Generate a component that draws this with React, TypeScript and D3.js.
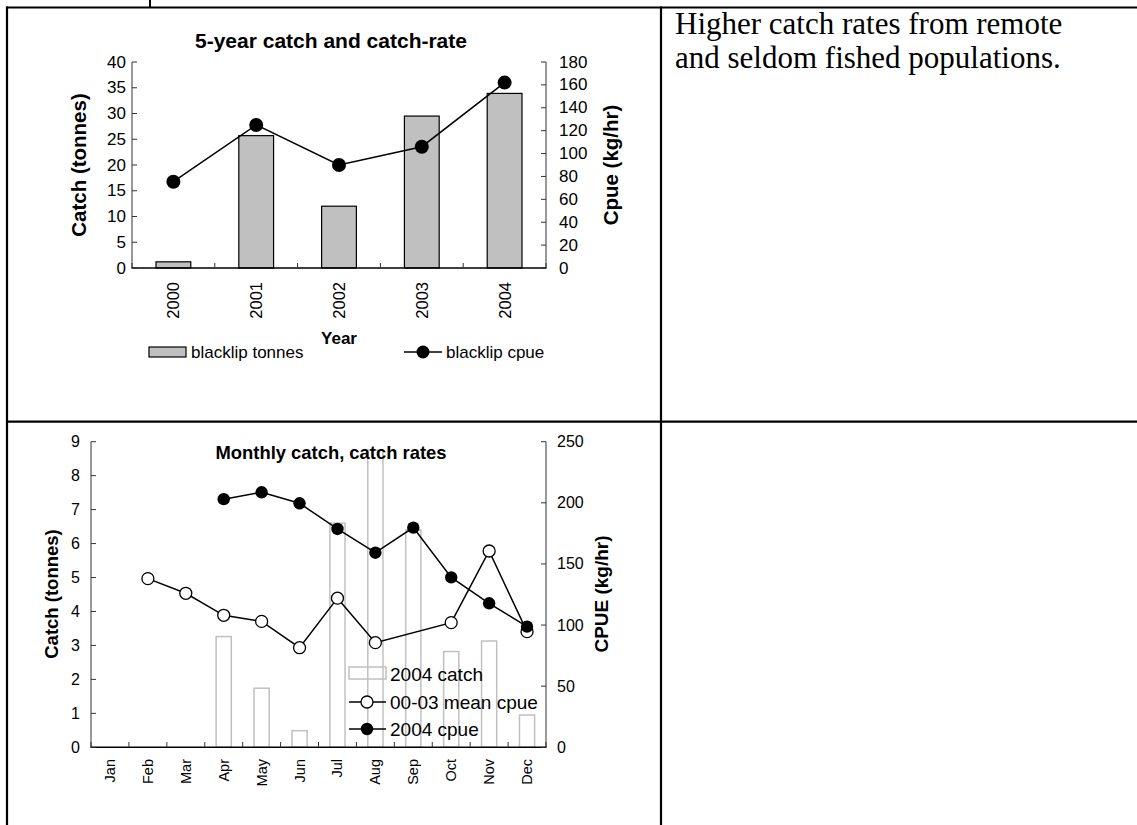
import React from 'react';
import * as d3 from 'd3';

// ---- Top chart data ----
const years = ['2000', '2001', '2002', '2003', '2004'];
const catchTonnes = [1.2, 25.7, 12.0, 29.5, 33.9];
const cpueYear = [75.4, 125, 90, 106, 162];
const catchTicks = [0, 5, 10, 15, 20, 25, 30, 35, 40];
const cpueTicks = [0, 20, 40, 60, 80, 100, 120, 140, 160, 180];

// ---- Bottom chart data ----
const months = ['Jan', 'Feb', 'Mar', 'Apr', 'May', 'Jun', 'Jul', 'Aug', 'Sep', 'Oct', 'Nov', 'Dec'];
const catch2004: (number | null)[] = [null, null, null, 3.26, 1.74, 0.49, 6.6, 8.75, 6.4, 2.82, 3.13, 0.95];
const meanCpue: (number | null)[] = [null, 138, 126, 108, 103, 81.5, 122, 85.6, null, 102, 160.6, 94.6];
const cpue2004: (number | null)[] = [null, null, null, 203, 208.6, 199.6, 178.6, 159.2, 179.7, 139, 117.8, 98.7];
const catchTicks2 = [0, 1, 2, 3, 4, 5, 6, 7, 8, 9];
const cpueTicks2 = [0, 50, 100, 150, 200, 250];

const SANS = '"Liberation Sans", Arial, sans-serif';
const SERIF = '"Liberation Serif", "Times New Roman", serif';

function TopChart() {
  const x = d3.scaleBand<string>().domain(years).range([132, 546]);
  const yL = d3.scaleLinear().domain([0, 40]).range([268, 62]);
  const yR = d3.scaleLinear().domain([0, 180]).range([268, 62]);
  const bw = x.bandwidth() * 0.42;
  const cx = (d: string) => (x(d) as number) + x.bandwidth() / 2;
  const pts = years.map((d, i) => [cx(d), yR(cpueYear[i])] as [number, number]);
  const line = d3.line()(pts) as string;
  const boundaries = years.map((d) => x(d) as number).concat([546]);
  return (
    <g fontFamily={SANS}>
      <text x={331} y={40} textAnchor="middle" dominantBaseline="central" fontWeight="bold" fontSize={21}>
        5-year catch and catch-rate
      </text>
      {years.map((d, i) => (
        <rect key={d} x={cx(d) - bw / 2} y={yL(catchTonnes[i])} width={bw} height={yL(0) - yL(catchTonnes[i])}
          fill="#c0c0c0" stroke="#000" strokeWidth={1.2} />
      ))}
      {/* axes */}
      <line x1={132} x2={132} y1={yL(40)} y2={yL(0)} stroke="#333" strokeWidth={1} />
      <line x1={546} x2={546} y1={yR(180)} y2={yR(0)} stroke="#333" strokeWidth={1} />
      <line x1={131.5} x2={546.5} y1={268} y2={268} stroke="#000" strokeWidth={1.5} />
      {catchTicks.map((t) => (
        <g key={'l' + t}>
          <line x1={132} x2={137} y1={yL(t)} y2={yL(t)} stroke="#333" />
          <text x={126} y={yL(t)} textAnchor="end" dominantBaseline="central" fontSize={17}>{t}</text>
        </g>
      ))}
      {cpueTicks.map((t) => (
        <g key={'r' + t}>
          <line x1={541} x2={546} y1={yR(t)} y2={yR(t)} stroke="#333" />
          <text x={559} y={yR(t)} textAnchor="start" dominantBaseline="central" fontSize={17}>{t}</text>
        </g>
      ))}
      {boundaries.map((b, i) => (
        <line key={'b' + i} x1={b} x2={b} y1={268} y2={263} stroke="#333" />
      ))}
      {years.map((d) => (
        <text key={'t' + d} transform={`translate(${cx(d)},282) rotate(-90)`} textAnchor="end"
          dominantBaseline="central" fontSize={16.5}>{d}</text>
      ))}
      <path d={line} fill="none" stroke="#000" strokeWidth={1.5} />
      {pts.map((p, i) => (
        <circle key={'c' + i} cx={p[0]} cy={p[1]} r={7} fill="#000" />
      ))}
      <text transform="translate(78,165) rotate(-90)" textAnchor="middle" dominantBaseline="central"
        fontWeight="bold" fontSize={20.5}>Catch (tonnes)</text>
      <text transform="translate(610,165) rotate(-90)" textAnchor="middle" dominantBaseline="central"
        fontWeight="bold" fontSize={20.5}>Cpue (kg/hr)</text>
      <text x={339} y={338} textAnchor="middle" dominantBaseline="central" fontWeight="bold" fontSize={17}>Year</text>
      {/* legend */}
      <rect x={149} y={347} width={37} height={10} fill="#c0c0c0" stroke="#000" strokeWidth={1.2} />
      <text x={191} y={352} dominantBaseline="central" fontSize={17}>blacklip tonnes</text>
      <line x1={404} x2={442} y1={352} y2={352} stroke="#000" strokeWidth={1.5} />
      <circle cx={423} cy={352} r={6.5} fill="#000" />
      <text x={446} y={352} dominantBaseline="central" fontSize={17}>blacklip cpue</text>
    </g>
  );
}

function BottomChart() {
  const x = d3.scaleBand<string>().domain(months).range([91, 546]);
  const yL = d3.scaleLinear().domain([0, 9]).range([747.3, 441.7]);
  const yR = d3.scaleLinear().domain([0, 250]).range([747.3, 441.7]);
  const bw = x.bandwidth() * 0.4;
  const cx = (d: string) => (x(d) as number) + x.bandwidth() / 2;
  const meanPts = months
    .map((m, i) => (meanCpue[i] == null ? null : ([cx(m), yR(meanCpue[i] as number)] as [number, number])))
    .filter((p) => p != null) as [number, number][];
  const curPts = months
    .map((m, i) => (cpue2004[i] == null ? null : ([cx(m), yR(cpue2004[i] as number)] as [number, number])))
    .filter((p) => p != null) as [number, number][];
  const lineGen = d3.line();
  const boundaries = months.map((d) => x(d) as number).concat([546]);
  return (
    <g fontFamily={SANS}>
      {months.map((m, i) =>
        catch2004[i] == null ? null : (
          <rect key={m} x={cx(m) - bw / 2} y={yL(catch2004[i] as number)} width={bw}
            height={yL(0) - yL(catch2004[i] as number)} fill="none" stroke="#c0c0c0" strokeWidth={1.5} />
        )
      )}
      <line x1={91} x2={91} y1={yL(9)} y2={yL(0)} stroke="#333" strokeWidth={1} />
      <line x1={546} x2={546} y1={yR(250)} y2={yR(0)} stroke="#333" strokeWidth={1} />
      <line x1={90.5} x2={546.5} y1={747.3} y2={747.3} stroke="#000" strokeWidth={1.5} />
      {catchTicks2.map((t) => (
        <g key={'l' + t}>
          <line x1={91} x2={96} y1={yL(t)} y2={yL(t)} stroke="#333" />
          <text x={80} y={yL(t)} textAnchor="end" dominantBaseline="central" fontSize={16}>{t}</text>
        </g>
      ))}
      {cpueTicks2.map((t) => (
        <g key={'r' + t}>
          <line x1={541} x2={546} y1={yR(t)} y2={yR(t)} stroke="#333" />
          <text x={557} y={yR(t)} textAnchor="start" dominantBaseline="central" fontSize={16}>{t}</text>
        </g>
      ))}
      {boundaries.map((b, i) => (
        <line key={'b' + i} x1={b} x2={b} y1={747.3} y2={742} stroke="#333" />
      ))}
      {months.map((m) => (
        <text key={'t' + m} transform={`translate(${cx(m)},759) rotate(-90)`} textAnchor="end"
          dominantBaseline="central" fontSize={14.5}>{m}</text>
      ))}
      <path d={lineGen(meanPts) as string} fill="none" stroke="#000" strokeWidth={1.5} />
      <path d={lineGen(curPts) as string} fill="none" stroke="#000" strokeWidth={1.5} />
      {meanPts.map((p, i) => (
        <circle key={'m' + i} cx={p[0]} cy={p[1]} r={6} fill="#fff" stroke="#000" strokeWidth={1.3} />
      ))}
      {curPts.map((p, i) => (
        <circle key={'c' + i} cx={p[0]} cy={p[1]} r={6.2} fill="#000" />
      ))}
      <text x={331} y={452} textAnchor="middle" dominantBaseline="central" fontWeight="bold" fontSize={18.4}>
        Monthly catch, catch rates
      </text>
      <text transform="translate(51,594) rotate(-90)" textAnchor="middle" dominantBaseline="central"
        fontWeight="bold" fontSize={18.5}>Catch (tonnes)</text>
      <text transform="translate(601,594) rotate(-90)" textAnchor="middle" dominantBaseline="central"
        fontWeight="bold" fontSize={19}>CPUE (kg/hr)</text>
      {/* legend */}
      <rect x={349} y={667} width={37} height={12} fill="none" stroke="#c0c0c0" strokeWidth={1.5} />
      <text x={390} y={674} dominantBaseline="central" fontSize={19}>2004 catch</text>
      <line x1={349} x2={386} y1={702} y2={702} stroke="#000" strokeWidth={1.5} />
      <circle cx={367} cy={702} r={6} fill="#fff" stroke="#000" strokeWidth={1.3} />
      <text x={390} y={702} dominantBaseline="central" fontSize={19}>00-03 mean cpue</text>
      <line x1={349} x2={386} y1={729} y2={729} stroke="#000" strokeWidth={1.5} />
      <circle cx={367} cy={729} r={6.2} fill="#000" />
      <text x={390} y={729} dominantBaseline="central" fontSize={19}>2004 cpue</text>
    </g>
  );
}

export default function App() {
  return (
    <svg width={1137} height={825} style={{ position: 'absolute', left: 0, top: 0, background: '#fff' }}>
      <rect x={0} y={0} width={1137} height={825} fill="#fff" />
      {/* table grid */}
      <line x1={150} x2={150} y1={0} y2={8} stroke="#000" strokeWidth={2} />
      <line x1={6} x2={1137} y1={7.5} y2={7.5} stroke="#000" strokeWidth={2.2} />
      <line x1={7} x2={7} y1={6.5} y2={825} stroke="#000" strokeWidth={2.2} />
      <line x1={661} x2={661} y1={6.5} y2={825} stroke="#000" strokeWidth={2.2} />
      <line x1={6} x2={1137} y1={421.7} y2={421.7} stroke="#000" strokeWidth={2.2} />
      <TopChart />
      <BottomChart />
      <g fontFamily={SERIF} fontSize={31} fill="#000">
        <text x={675} y={34}>Higher catch rates from remote</text>
        <text x={675} y={67.5}>and seldom fished populations.</text>
      </g>
    </svg>
  );
}
